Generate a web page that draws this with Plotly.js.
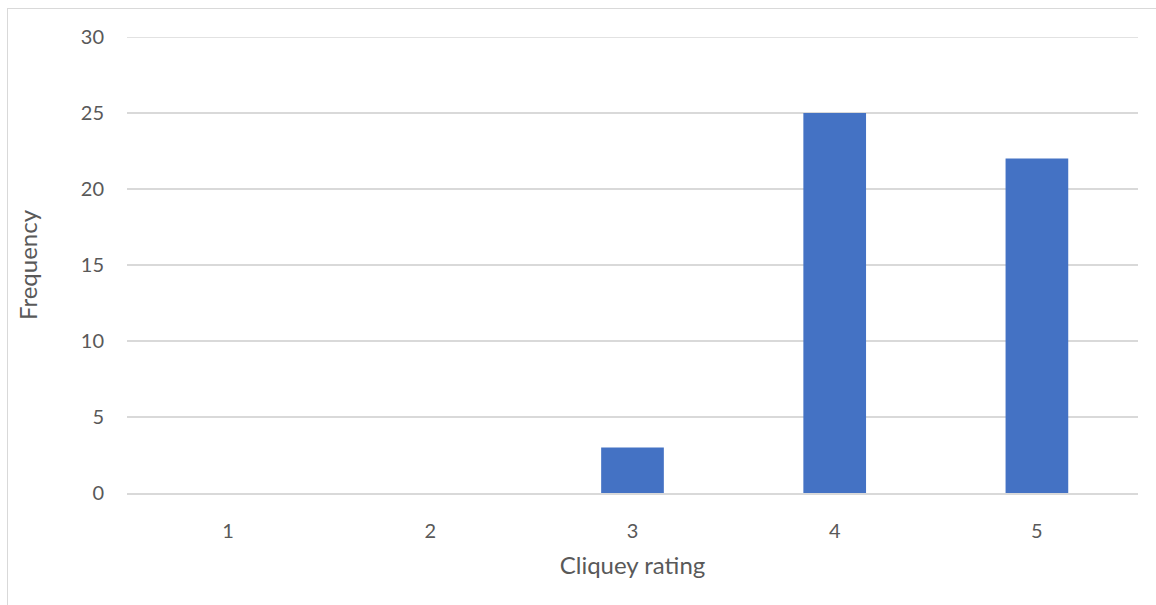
<!DOCTYPE html>
<html>
<head>
<meta charset="utf-8">
<script src="https://cdn.plot.ly/plotly-3.0.1.min.js"></script>
<style>
html,body{margin:0;padding:0;background:#fff;}
#wrap{position:absolute;left:0;top:0;width:1156px;height:605px;overflow:hidden;}
#frame{position:absolute;left:7px;top:8px;width:1200px;height:700px;border-left:1.5px solid #d9d9d9;border-top:1.5px solid #d9d9d9;}
#chart{position:absolute;left:0;top:0;width:1156px;height:605px;}
</style>
</head>
<body>
<div id="wrap">
<div id="frame"></div>
<div id="chart"></div>
</div>
<script>
const categories = ["1", "2", "3", "4", "5"];
const frequency = [0, 0, 3, 25, 22];
const yTicks = [0, 5, 10, 15, 20, 25, 30];

const font = "Lato, 'Open Sans', sans-serif";
const yMax = yTicks[yTicks.length - 1];
Plotly.newPlot("chart", [{
  type: "bar",
  x: categories,
  y: frequency,
  marker: {color: "#4472C4"},
  hoverinfo: "x+y"
}], {
  width: 1156, height: 605,
  paper_bgcolor: "rgba(0,0,0,0)",
  plot_bgcolor: "rgba(0,0,0,0)",
  margin: {l: 127, r: 18, t: 37, b: 112},
  bargap: 0.69,
  showlegend: false,
  font: {family: font, color: "#595959", size: 20},
  shapes: [{
    type: "line", xref: "paper", yref: "y",
    x0: 0, x1: 1, y0: yMax, y1: yMax,
    line: {color: "#d9d9d9", width: 1.5}, layer: "below"
  }],
  xaxis: {
    type: "category",
    showgrid: false,
    showline: true, linecolor: "#d9d9d9", linewidth: 1.5,
    ticks: "", ticklabelstandoff: 19,
    tickfont: {size: 20, color: "#595959"},
    title: {text: "Cliquey rating", font: {size: 24, color: "#595959"}, standoff: 16}
  },
  yaxis: {
    range: [0, yMax],
    tickvals: yTicks,
    showgrid: true, gridcolor: "#d9d9d9", gridwidth: 1.5,
    zeroline: false, showline: false,
    ticks: "", ticklabelstandoff: 22,
    tickfont: {size: 20, color: "#595959"},
    title: {text: "Frequency", font: {size: 24, color: "#595959"}, standoff: 36}
  }
}, {displayModeBar: false});
</script>
</body>
</html>
